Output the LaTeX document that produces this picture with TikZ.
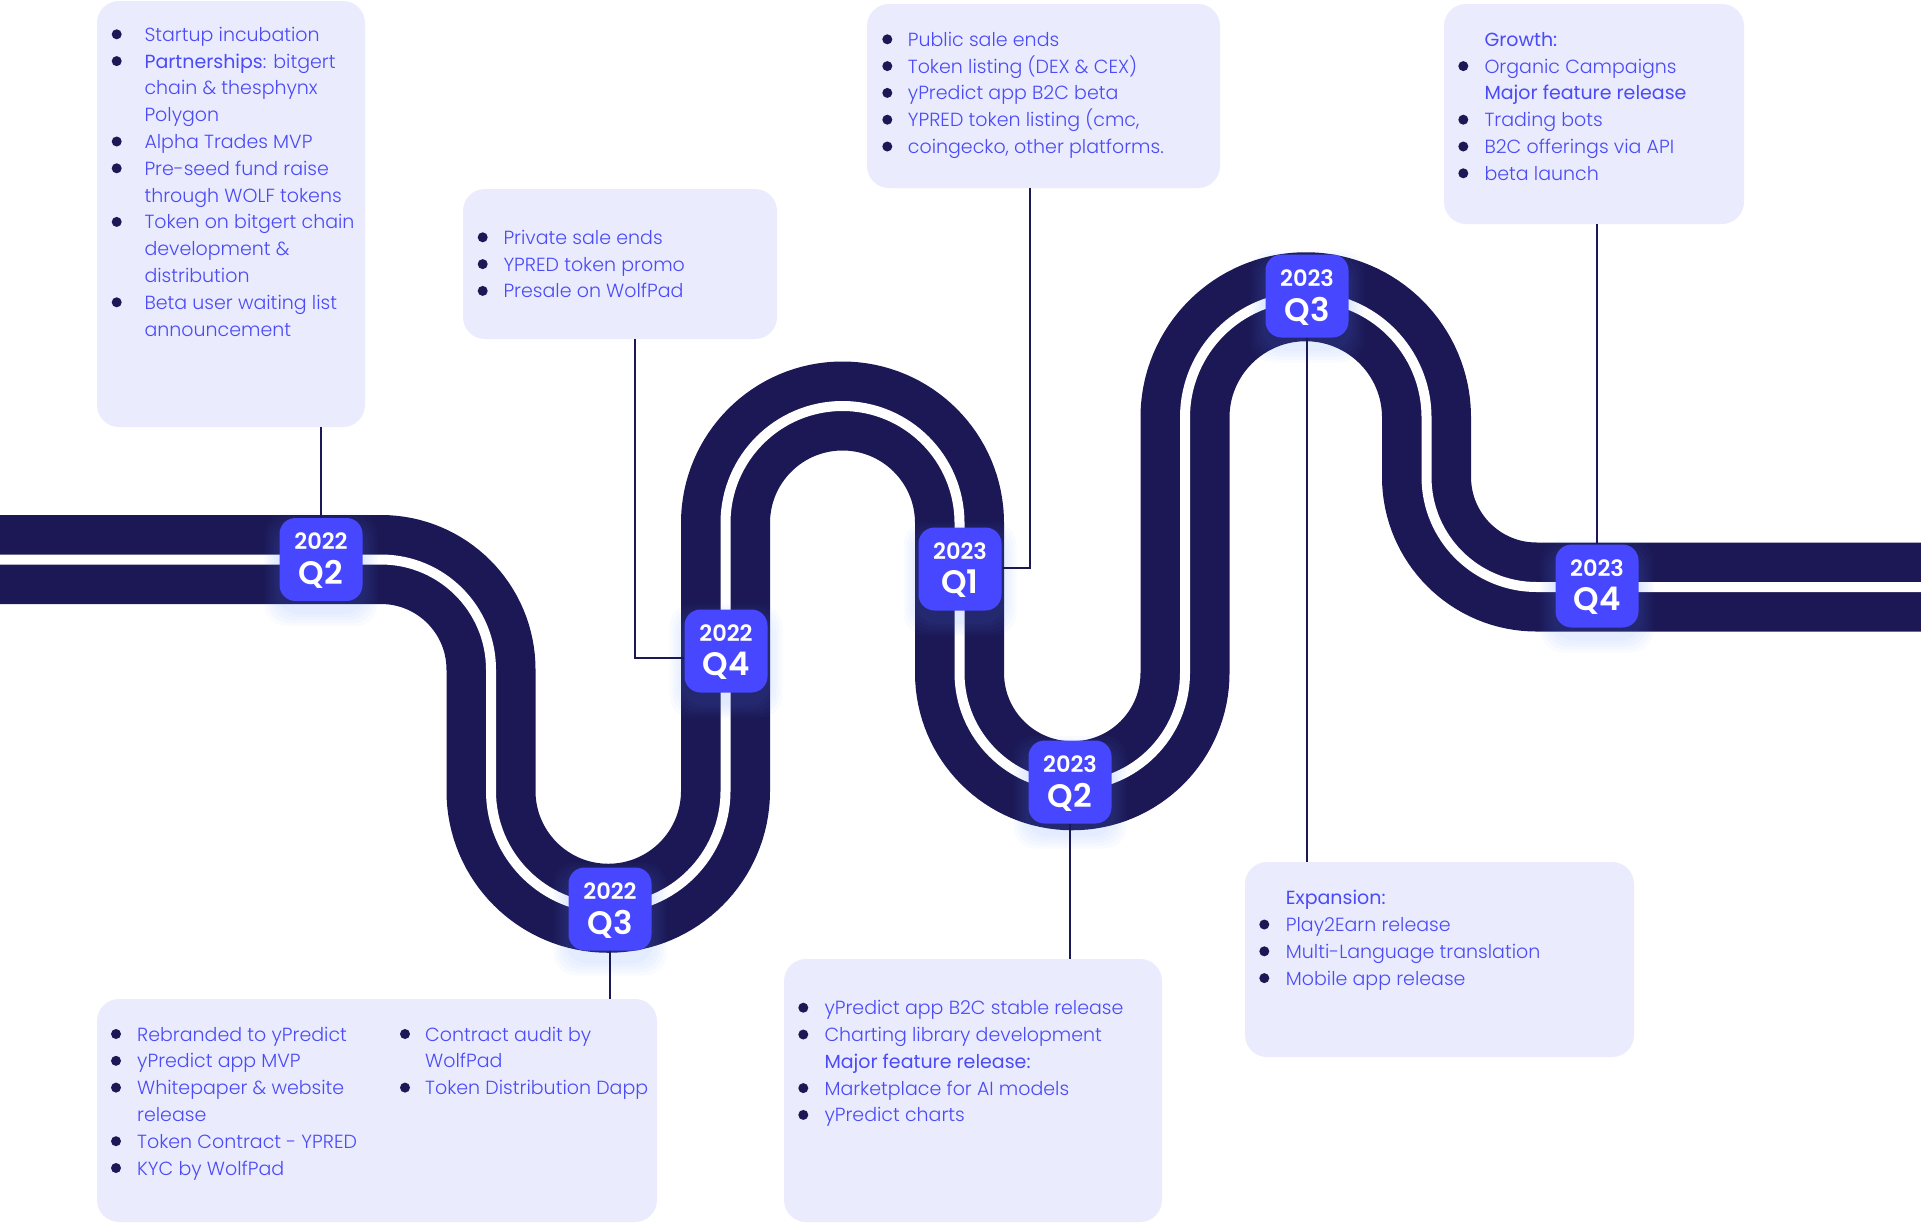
\documentclass[tikz,border=0pt]{standalone}
\usepackage{fontspec}
\usetikzlibrary{calc}
\newfontfamily\popl{Poppins Light}
\newfontfamily\popr{Poppins}
\newfontfamily\pops{Poppins SemiBold}
\definecolor{navy}{HTML}{1B1855}
\definecolor{badgecol}{HTML}{4747FF}
\definecolor{boxbg}{HTML}{EAEBFC}
\definecolor{txt}{HTML}{4B4BF7}
\definecolor{glowcol}{HTML}{5A8CFF}
\tikzset{
  infobox/.style={fill=boxbg, draw=none, rounded corners=22pt, inner sep=0pt},
  conn/.style={draw=navy, line width=1.8pt},
  itemtxt/.style={anchor=base west, inner sep=0pt, text=txt, font=\popl\fontsize{19}{23}\selectfont},
  headtxt/.style={itemtxt, font=\popr\fontsize{19}{23}\selectfont},
  bdg/.style={fill=badgecol, rounded corners=16pt, minimum width=83pt, minimum height=83pt, inner sep=0pt},
  yeartxt/.style={text=white, inner sep=0pt, font=\pops\fontsize{22.5}{22.5}\selectfont},
  qtxt/.style={text=white, inner sep=0pt, font=\pops\fontsize{32.5}{32.5}\selectfont},
  road/.style={draw=navy, line width=89pt},
  stripe/.style={draw=white, line width=10pt},
}
\newcommand\boxcfg[3]{\def\bx{#1}\def\tx{#2}\def\yo{#3}}
\newcommand\bl[3]{\fill[navy] (\bx,{\yo+26.8*#2}) circle (5pt);
  \node[itemtxt] (#1) at (\tx,{\yo+26.8*#2+7}) {#3};}
\newcommand\nl[3]{\node[itemtxt] (#1) at (\tx,{\yo+26.8*#2+7}) {#3};}
\newcommand\hl[3]{\node[headtxt] (#1) at (\tx,{\yo+26.8*#2+7}) {#3};}
\newcommand\badge[5]{%
  \foreach \g in {15,12,9,6,3}{%
    \fill[glowcol,opacity=0.035,rounded corners=22pt]
      ($(#2,#3)+(-41.5-\g,-41.5-\g+10)$) rectangle ($(#2,#3)+(41.5+\g,41.5+\g+10)$);}
  \node[bdg] (#1) at (#2,#3) {};
  \node[yeartxt] (#1y) at ([yshift=18pt]#1.center) {#4};
  \node[qtxt] (#1q) at ([yshift=-15pt]#1.center) {#5};
}
\begin{document}
\begin{tikzpicture}[x=1pt,y=-1pt]
\useasboundingbox (0,0) rectangle (1921,1224);
% info boxes
\node[infobox, minimum width=268pt, minimum height=426pt] (boxA) at (231,214) {};
\node[infobox, minimum width=314pt, minimum height=150pt] (boxB) at (620,264) {};
\node[infobox, minimum width=353pt, minimum height=184pt] (boxC) at (1043.5,96) {};
\node[infobox, minimum width=300pt, minimum height=220pt] (boxD) at (1594,114) {};
\node[infobox, minimum width=560pt, minimum height=223pt] (boxE) at (377,1110.5) {};
\node[infobox, minimum width=378pt, minimum height=263pt] (boxF) at (973,1090.5) {};
\node[infobox, minimum width=389pt, minimum height=195pt] (boxG) at (1439.5,959.5) {};
% road
\def\roadpath{(0,559.5) -- (381,559.5) arc[start angle=-90,end angle=0,radius=110]
  -- (491,791) arc[start angle=180,end angle=0,radius=117.25]
  -- (725.5,523) arc[start angle=180,end angle=360,radius=117]
  -- (959.5,673) arc[start angle=180,end angle=0,radius=112.75]
  -- (1185,417.5) arc[start angle=180,end angle=360,radius=120.75]
  -- (1426.5,477) arc[start angle=180,end angle=90,radius=110]
  -- (1921,587)}
\draw[road] \roadpath;
\draw[stripe] \roadpath;
% badges
\badge{b1}{321}{559.5}{2022}{Q2}
\badge{b2}{610}{909}{2022}{Q3}
\badge{b3}{726}{651}{2022}{Q4}
\badge{b4}{960}{569}{2023}{Q1}
\badge{b5}{1070}{782}{2023}{Q2}
\badge{b6}{1307}{296}{2023}{Q3}
\badge{b7}{1597}{586}{2023}{Q4}
% connectors
\coordinate (kB) at (635,658);
\coordinate (kC) at (1030,568);
\draw[conn] (b1.north |- boxA.south) -- (b1.north);
\draw[conn] (kB |- boxB.south) -- (kB) -- (kB -| b3.west);
\draw[conn] (kC |- boxC.south) -- (kC) -- (kC -| b4.east);
\draw[conn] (b7.north |- boxD.south) -- (b7.north);
\draw[conn] (b2.south) -- (b2.south |- boxE.north);
\draw[conn] (b5.south) -- (b5.south |- boxF.north);
\draw[conn] (b6.south) -- (b6.south |- boxG.north);
% box A text
\boxcfg{116.7}{144.3}{34.3}
\bl{a0}{0}{Startup incubation}
\bl{a1}{1}{{\popr Partnerships}: bitgert}
\nl{a2}{2}{chain \& thesphynx}
\nl{a3}{3}{Polygon}
\bl{a4}{4}{Alpha Trades MVP}
\bl{a5}{5}{Pre-seed fund raise}
\nl{a6}{6}{through WOLF tokens}
\bl{a7}{7}{Token on bitgert chain}
\nl{a8}{8}{development \&}
\nl{a9}{9}{distribution}
\bl{a10}{10}{Beta user waiting list}
\nl{a11}{11}{announcement}
% box B text
\boxcfg{482.7}{503.3}{237.3}
\bl{bb0}{0}{Private sale ends}
\bl{bb1}{1}{YPRED token promo}
\bl{bb2}{2}{Presale on WolfPad}
% box C text
\boxcfg{887.3}{907.7}{39.3}
\bl{c0}{0}{Public sale ends}
\bl{c1}{1}{Token listing (DEX \& CEX)}
\bl{c2}{2}{yPredict app B2C beta}
\bl{c3}{3}{YPRED token listing (cmc,}
\bl{c4}{4}{coingecko, other platforms.}
% box D text
\boxcfg{1463.3}{1484.3}{39.3}
\hl{d0}{0}{Growth:}
\bl{d1}{1}{Organic Campaigns}
\hl{d2}{2}{Major feature release}
\bl{d3}{3}{Trading bots}
\bl{d4}{4}{B2C offerings via API}
\bl{d5}{5}{beta launch}
% box E text
\boxcfg{116}{137}{1034}
\bl{e0}{0}{Rebranded to yPredict}
\bl{e1}{1}{yPredict app MVP}
\bl{e2}{2}{Whitepaper \& website}
\nl{e3}{3}{release}
\bl{e4}{4}{Token Contract - YPRED}
\bl{e5}{5}{KYC by WolfPad}
\boxcfg{405}{425}{1034}
\bl{e6}{0}{Contract audit by}
\nl{e7}{1}{WolfPad}
\bl{e8}{2}{Token Distribution Dapp}
% box F text
\boxcfg{803.3}{824.3}{1007.7}
\bl{f0}{0}{yPredict app B2C stable release}
\bl{f1}{1}{Charting library development}
\hl{f2}{2}{Major feature release:}
\bl{f3}{3}{Marketplace for AI models}
\bl{f4}{4}{yPredict charts}
% box G text
\boxcfg{1264.3}{1285.7}{897.7}
\hl{g0}{0}{Expansion:}
\bl{g1}{1}{Play2Earn release}
\bl{g2}{2}{Multi-Language translation}
\bl{g3}{3}{Mobile app release}
\end{tikzpicture}
\end{document}
